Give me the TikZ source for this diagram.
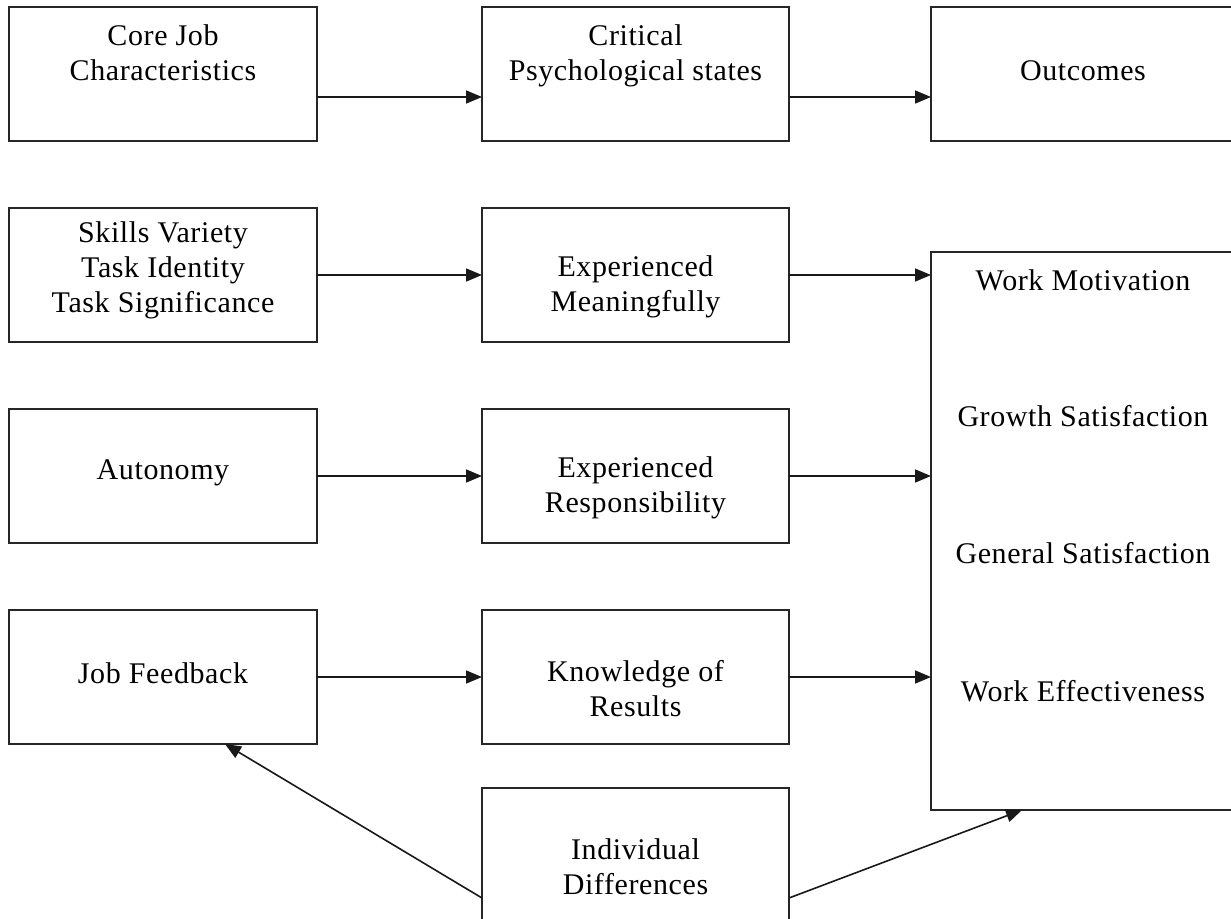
\documentclass[tikz,border=0pt]{standalone}
\usepackage{fontspec}
\setmainfont{Liberation Serif}[LetterSpace=2]
\usetikzlibrary{arrows.meta}
\begin{document}
\begin{tikzpicture}[x=1pt,y=-1pt,
  box/.style={draw=black!85,line width=1.8pt,rectangle,inner sep=0pt,outer sep=0pt},
  lbl/.style={align=center,inner sep=0pt,font=\fontsize{30}{35}\selectfont},
  arr/.style={draw=black!90,line width=1.6pt,-{Triangle[length=16pt,width=13pt]}}]
\useasboundingbox (0,0) rectangle (1231,918);
\fill[white] (0,0) rectangle (1231,918);
% boxes
\node[box,minimum width=308pt,minimum height=134pt] (a1) at (163,74) {};
\node[box,minimum width=307pt,minimum height=134pt] (b1) at (635.5,74) {};
\node[box,minimum width=306pt,minimum height=134pt] (c1) at (1084,74) {};
\node[box,minimum width=308pt,minimum height=134pt] (a2) at (163,275) {};
\node[box,minimum width=307pt,minimum height=134pt] (b2) at (635.5,275) {};
\node[box,minimum width=308pt,minimum height=134pt] (a3) at (163,476) {};
\node[box,minimum width=307pt,minimum height=134pt] (b3) at (635.5,476) {};
\node[box,minimum width=308pt,minimum height=134pt] (a4) at (163,677) {};
\node[box,minimum width=307pt,minimum height=134pt] (b4) at (635.5,677) {};
\node[box,minimum width=306pt,minimum height=558pt] (r) at (1084,531) {};
\node[box,minimum width=307pt,minimum height=220pt] (e) at (635.5,898) {};
% labels
\node[lbl] (ta1) at (163,53) {Core Job\\Characteristics};
\node[lbl] (tb1) at (635.5,55.5) {Critical\\Psychological states};
\node[lbl] (tc1) at (1083,71) {Outcomes};
\node[lbl] (ta2) at (163,270) {Skills Variety\\Task Identity\\Task Significance};
\node[lbl] (tb2) at (635.5,287) {Experienced\\Meaningfully};
\node[lbl] (ta3) at (163,473) {Autonomy};
\node[lbl] (tb3) at (635.5,488) {Experienced\\Responsibility};
\node[lbl] (ta4) at (163,673) {Job Feedback};
\node[lbl] (tb4) at (635.5,689) {Knowledge of\\Results};
\node[lbl] (te) at (635.5,867) {Individual\\Differences};
\node[lbl] (tr1) at (1083,280) {Work Motivation};
\node[lbl] (tr2) at (1083,416) {Growth Satisfaction};
\node[lbl] (tr3) at (1083,553) {General Satisfaction};
\node[lbl] (tr4) at (1083,691) {Work Effectiveness};
% connectors
\draw[arr] ([yshift=-23pt]a1.east) -- ([yshift=-23pt]b1.west);
\draw[arr] ([yshift=-23pt]b1.east) -- ([yshift=-23pt]c1.west);
\draw[arr] (a2.east) -- (b2.west);
\draw[arr] (b2.east) -- (b2.east -| r.west);
\draw[arr] (a3.east) -- (b3.west);
\draw[arr] (b3.east) -- (b3.east -| r.west);
\draw[arr] (a4.east) -- (b4.west);
\draw[arr] (b4.east) -- (b4.east -| r.west);
\draw[arr] (e.west) -- ([xshift=62pt]a4.south);
\draw[arr] (e.east) -- ([xshift=-62pt]r.south);
\end{tikzpicture}
\end{document}
